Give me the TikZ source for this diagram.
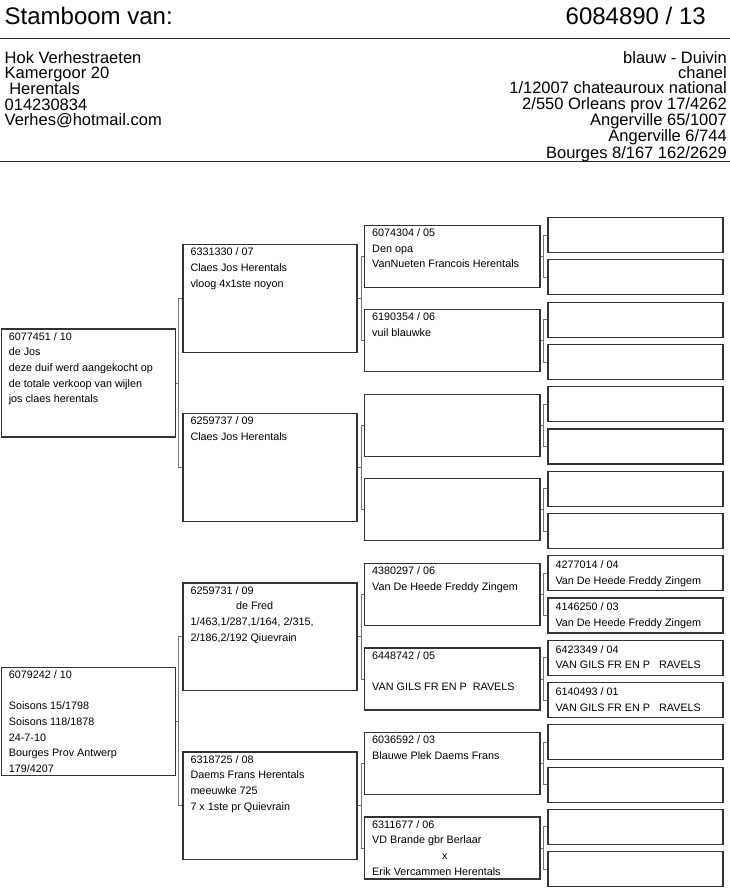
\documentclass[tikz,border=0pt]{standalone}
\usepackage{fontspec}
\setmainfont{Liberation Sans}
\begin{document}
\begin{tikzpicture}[x=1pt,y=-1pt,
  box/.style={draw=black!80, line width=1.2pt, inner sep=0pt, anchor=north west, fill=white},
  gone/.style={box, minimum width=174.4pt, minimum height=108pt},
  gtwo/.style={box, minimum width=174pt, minimum height=107.5pt},
  gthree/.style={box, minimum width=175.3pt, minimum height=62pt},
  gfour/.style={box, minimum width=175pt, minimum height=35pt},
  txt/.style={anchor=north west, inner sep=0pt, align=left, font=\fontsize{10.8}{15.7}\selectfont},
  conn/.style={draw=black!55, line width=0.8pt},
  hrule/.style={draw=black!85, line width=1.4pt},
  title/.style={inner sep=0pt, font=\fontsize{24}{28}\selectfont},
  info/.style={inner sep=0pt, font=\fontsize{16.5}{15.33}\selectfont}
]
\useasboundingbox (0,0) rectangle (730,894);
\newcommand\fl{\rule{0pt}{9pt}}
\newcommand\hl{\rule{0pt}{13pt}}

% header
\node[title, anchor=base west] (ttl) at (4.5,24) {Stamboom van:};
\node[title, anchor=base east] (ring) at (706,24) {6084890 / 13};
\coordinate (r1a) at (0,38.5);
\coordinate (r1b) at (730,38.5);
\coordinate (r2a) at (0,161.5);
\coordinate (r2b) at (730,161.5);
\draw[hrule] (r1a) -- (r1b);
\draw[hrule] (r2a) -- (r2b);
\node[info, anchor=north west, align=left] (owner) at (4.5,50) {\hl Hok Verhestraeten\\Kamergoor 20\\\ Herentals\\014230834\\Verhes@hotmail.com};
\node[info, anchor=north east, align=right] (bird) at (727,50) {\hl blauw - Duivin\\chanel\\1/12007 chateauroux national\\2/550 Orleans prov 17/4262\\Angerville 65/1007\\Angerville 6/744\\Bourges 8/167 162/2629};

% generation 1
\node[gone] (a1) at (0.6,328.4) {};
\node[gone] (a2) at (0.6,666.6) {};
% generation 2
\node[gtwo] (b1) at (182.3,244.15) {};
\node[gtwo] (b2) at (182.3,413.23) {};
\node[gtwo] (b3) at (182.3,582.31) {};
\node[gtwo] (b4) at (182.3,751.39) {};
% generation 3
\node[gthree] (c1) at (364,224.6) {};
\node[gthree] (c2) at (364,309.14) {};
\node[gthree] (c3) at (364,393.68) {};
\node[gthree] (c4) at (364,478.22) {};
\node[gthree] (c5) at (364,562.76) {};
\node[gthree] (c6) at (364,647.3) {};
\node[gthree] (c7) at (364,731.84) {};
\node[gthree] (c8) at (364,816.38) {};
% generation 4
\node[gfour] (d1) at (547.3,217.0) {};
\node[gfour] (d2) at (547.3,259.27) {};
\node[gfour] (d3) at (547.3,301.54) {};
\node[gfour] (d4) at (547.3,343.81) {};
\node[gfour] (d5) at (547.3,386.08) {};
\node[gfour] (d6) at (547.3,428.35) {};
\node[gfour] (d7) at (547.3,470.62) {};
\node[gfour] (d8) at (547.3,512.89) {};
\node[gfour] (d9) at (547.3,555.16) {};
\node[gfour] (d10) at (547.3,597.43) {};
\node[gfour] (d11) at (547.3,639.70) {};
\node[gfour] (d12) at (547.3,681.97) {};
\node[gfour] (d13) at (547.3,724.24) {};
\node[gfour] (d14) at (547.3,766.51) {};
\node[gfour] (d15) at (547.3,808.78) {};
\node[gfour] (d16) at (547.3,851.05) {};

% junction columns
\coordinate (ja) at (178.3,0);
\coordinate (jb) at (361.7,0);
\coordinate (jc) at (543.3,0);

% connectors gen1 -> gen2
\foreach \p/\u/\v in {a1/b1/b2, a2/b3/b4}{
  \draw[conn] (\p.east) -- (\p.east -| ja);
  \draw[conn] (\u.west) -- (\u.west -| ja) -- (\v.west -| ja) -- (\v.west);
}
% gen2 -> gen3
\foreach \p/\u/\v in {b1/c1/c2, b2/c3/c4, b3/c5/c6, b4/c7/c8}{
  \draw[conn] (\p.east) -- (\p.east -| jb);
  \draw[conn] (\u.west) -- (\u.west -| jb) -- (\v.west -| jb) -- (\v.west);
}
% gen3 -> gen4
\foreach \p/\u/\v in {c1/d1/d2, c2/d3/d4, c3/d5/d6, c4/d7/d8, c5/d9/d10, c6/d11/d12, c7/d13/d14, c8/d15/d16}{
  \draw[conn] (\p.east) -- (\p.east -| jc);
  \draw[conn] (\u.west) -- (\u.west -| jc) -- (\v.west -| jc) -- (\v.west);
}

% texts
\node[txt] (a1t) at ([shift={(8pt,-2.5pt)}]a1.north west) {\fl 6077451 / 10\\de Jos\\deze duif werd aangekocht op\\de totale verkoop van wijlen\\jos claes herentals};
\node[txt] (a2t) at ([shift={(8pt,-2.5pt)}]a2.north west) {\fl 6079242 / 10\\\mbox{}\\Soisons 15/1798\\Soisons 118/1878\\24-7-10\\Bourges Prov Antwerp\\179/4207};
\node[txt] (b1t) at ([shift={(8pt,-2.5pt)}]b1.north west) {\fl 6331330 / 07\\Claes Jos Herentals\\vloog 4x1ste noyon};
\node[txt] (b2t) at ([shift={(8pt,-2.5pt)}]b2.north west) {\fl 6259737 / 09\\Claes Jos Herentals};
\node[txt] (b3t) at ([shift={(8pt,-2.5pt)}]b3.north west) {\fl 6259731 / 09\\\hspace*{45.5pt}de Fred\\1/463,1/287,1/164, 2/315,\\2/186,2/192 Qiuevrain};
\node[txt] (b4t) at ([shift={(8pt,-2.5pt)}]b4.north west) {\fl 6318725 / 08\\Daems Frans Herentals\\meeuwke 725\\7 x 1ste pr Quievrain};
\node[txt] (c1t) at ([shift={(8pt,-2.5pt)}]c1.north west) {\fl 6074304 / 05\\Den opa\\VanNueten Francois Herentals};
\node[txt] (c2t) at ([shift={(8pt,-2.5pt)}]c2.north west) {\fl 6190354 / 06\\vuil blauwke};
\node[txt] (c5t) at ([shift={(8pt,-2.5pt)}]c5.north west) {\fl 4380297 / 06\\Van De Heede Freddy Zingem};
\node[txt] (c6t) at ([shift={(8pt,-2.5pt)}]c6.north west) {\fl 6448742 / 05\\\mbox{}\\VAN GILS FR EN P\ \ RAVELS};
\node[txt] (c7t) at ([shift={(8pt,-2.5pt)}]c7.north west) {\fl 6036592 / 03\\Blauwe Plek Daems Frans};
\node[txt] (c8t) at ([shift={(8pt,-2.5pt)}]c8.north west) {\fl 6311677 / 06\\VD Brande gbr Berlaar\\\hspace*{70pt}x\\Erik Vercammen Herentals};
\node[txt] (d9t) at ([shift={(8pt,-4.3pt)}]d9.north west) {\fl 4277014 / 04\\Van De Heede Freddy Zingem};
\node[txt] (d10t) at ([shift={(8pt,-4.3pt)}]d10.north west) {\fl 4146250 / 03\\Van De Heede Freddy Zingem};
\node[txt] (d11t) at ([shift={(8pt,-4.3pt)}]d11.north west) {\fl 6423349 / 04\\VAN GILS FR EN P\ \ \ RAVELS};
\node[txt] (d12t) at ([shift={(8pt,-4.3pt)}]d12.north west) {\fl 6140493 / 01\\VAN GILS FR EN P\ \ \ RAVELS};
\end{tikzpicture}
\end{document}
